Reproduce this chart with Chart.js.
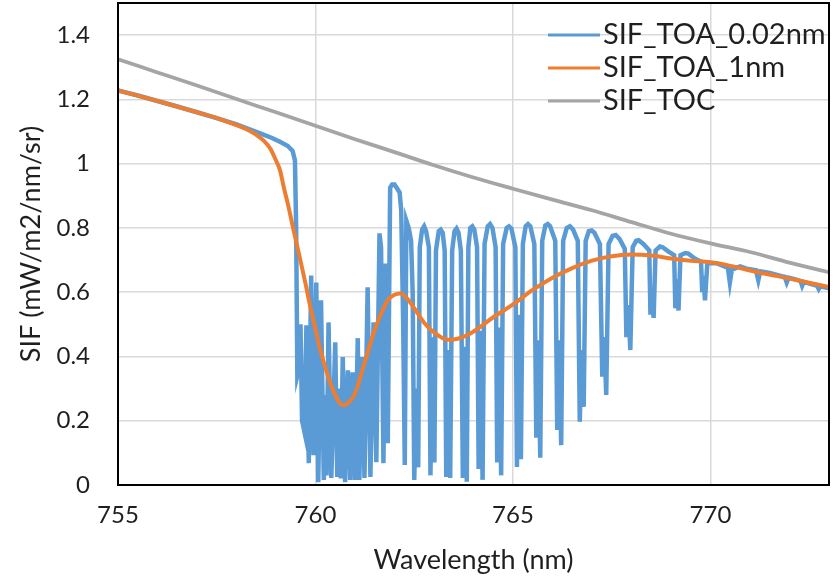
<!DOCTYPE html>
<html>
<head>
<meta charset="utf-8">
<script src="https://cdn.jsdelivr.net/npm/chart.js@4.4.0/dist/chart.umd.min.js"></script>
<style>
  html, body { margin: 0; padding: 0; background: #ffffff; }
  #wrap { width: 837px; height: 579px; }
</style>
</head>
<body>
<div id="wrap"><canvas id="sifChart" width="837" height="579"></canvas></div>
<script>
// SIF spectra around the O2-A band

const seriesNames = ["SIF_TOA_0.02nm", "SIF_TOA_1nm", "SIF_TOC"];
const seriesColors = ["#5B9BD5", "#ED7D31", "#A5A5A5"];

// top of atmosphere, 0.02 nm resolution
const wlFine = [
  755.00, 755.50, 756.00, 756.50, 757.00, 757.50, 758.00, 758.30, 758.60, 758.90,
  759.10, 759.30, 759.42, 759.48, 759.51, 759.54, 759.58, 759.62, 759.66, 759.72,
  759.77, 759.83, 759.89, 759.95, 760.02, 760.07, 760.14, 760.21, 760.25, 760.28,
  760.33, 760.40, 760.50, 760.55, 760.60, 760.64, 760.69, 760.75, 760.82, 760.88,
  760.94, 761.00, 761.07, 761.11, 761.17, 761.24, 761.32, 761.39, 761.47, 761.54,
  761.62, 761.66, 761.72, 761.78, 761.83, 761.89, 761.94, 762.00, 762.07, 762.13,
  762.17, 762.22, 762.26, 762.30, 762.36, 762.42, 762.46, 762.50, 762.55, 762.60,
  762.64, 762.70, 762.75, 762.80, 762.87, 762.91, 762.96, 763.01, 763.05, 763.12,
  763.17, 763.22, 763.27, 763.31, 763.36, 763.41, 763.46, 763.52, 763.57, 763.62,
  763.68, 763.73, 763.78, 763.83, 763.87, 763.92, 763.97, 764.02, 764.09, 764.13,
  764.18, 764.23, 764.28, 764.36, 764.42, 764.48, 764.56, 764.60, 764.65, 764.70,
  764.75, 764.84, 764.90, 764.96, 765.06, 765.10, 765.15, 765.20, 765.25, 765.32,
  765.38, 765.44, 765.54, 765.59, 765.64, 765.69, 765.74, 765.82, 765.88, 765.94,
  766.07, 766.12, 766.17, 766.22, 766.27, 766.36, 766.44, 766.52, 766.64, 766.69,
  766.74, 766.79, 766.84, 766.92, 766.99, 767.06, 767.20, 767.26, 767.31, 767.36,
  767.42, 767.52, 767.60, 767.70, 767.83, 767.87, 767.92, 767.97, 768.03, 768.12,
  768.18, 768.30, 768.45, 768.48, 768.52, 768.56, 768.61, 768.72, 768.79, 768.92,
  769.08, 769.11, 769.15, 769.19, 769.24, 769.36, 769.44, 769.60, 769.76, 769.79,
  769.82, 769.86, 769.92, 770.15, 770.35, 770.44, 770.49, 770.54, 770.75, 770.95,
  771.15, 771.21, 771.26, 771.50, 771.80, 771.88, 771.93, 771.98, 772.15, 772.28,
  772.32, 772.36, 772.55, 772.70, 772.74, 772.78, 773.00
];
const sifFine = [
  1.228, 1.212, 1.195, 1.178, 1.160, 1.142, 1.122, 1.108, 1.094, 1.080,
  1.068, 1.055, 1.040, 1.010, 0.800, 0.340, 0.360, 0.500, 0.200, 0.165,
  0.497, 0.068, 0.652, 0.093, 0.630, 0.009, 0.575, 0.016, 0.280, 0.030,
  0.506, 0.022, 0.444, 0.025, 0.300, 0.020, 0.398, 0.009, 0.357, 0.016,
  0.351, 0.016, 0.457, 0.016, 0.398, 0.022, 0.615, 0.025, 0.506, 0.071,
  0.783, 0.739, 0.068, 0.689, 0.130, 0.925, 0.935, 0.935, 0.922, 0.910,
  0.855, 0.500, 0.062, 0.823, 0.800, 0.760, 0.600, 0.016, 0.300, 0.055,
  0.740, 0.795, 0.805, 0.790, 0.740, 0.030, 0.460, 0.070, 0.730, 0.790,
  0.795, 0.785, 0.730, 0.025, 0.420, 0.022, 0.730, 0.790, 0.798, 0.785,
  0.730, 0.022, 0.430, 0.010, 0.740, 0.800, 0.805, 0.795, 0.740, 0.050,
  0.480, 0.016, 0.750, 0.805, 0.812, 0.800, 0.740, 0.070, 0.490, 0.030,
  0.750, 0.800, 0.805, 0.798, 0.740, 0.056, 0.530, 0.080, 0.750, 0.805,
  0.812, 0.805, 0.750, 0.147, 0.450, 0.085, 0.760, 0.808, 0.812, 0.805,
  0.760, 0.171, 0.450, 0.124, 0.760, 0.800, 0.805, 0.795, 0.760, 0.197,
  0.420, 0.243, 0.760, 0.790, 0.792, 0.785, 0.750, 0.337, 0.460, 0.280,
  0.750, 0.775, 0.778, 0.765, 0.735, 0.460, 0.560, 0.420, 0.740, 0.760,
  0.762, 0.750, 0.730, 0.530, 0.600, 0.520, 0.730, 0.742, 0.740, 0.728,
  0.715, 0.550, 0.640, 0.543, 0.715, 0.722, 0.720, 0.705, 0.695, 0.600,
  0.650, 0.575, 0.690, 0.690, 0.680, 0.676, 0.630, 0.670, 0.680, 0.672,
  0.668, 0.637, 0.665, 0.660, 0.650, 0.648, 0.630, 0.645, 0.640, 0.635,
  0.620, 0.632, 0.625, 0.620, 0.610, 0.618, 0.612
];

// top of atmosphere, convolved to 1 nm
const wlCoarse = [
  755.00, 756.00, 757.00, 757.50, 758.00, 758.25, 758.50, 758.70, 758.85, 759.00,
  759.10, 759.20, 759.30, 759.45, 759.60, 759.75, 759.85, 760.00, 760.10, 760.25,
  760.35, 760.50, 760.69, 760.85, 761.00, 761.24, 761.49, 761.65, 761.83, 762.00,
  762.15, 762.30, 762.50, 762.75, 763.00, 763.35, 763.60, 763.90, 764.15, 764.50,
  765.00, 765.50, 766.00, 766.50, 767.00, 767.50, 768.00, 768.50, 769.00, 769.50,
  770.00, 770.50, 771.20, 771.70, 772.20, 773.00
];
const sifCoarse = [
  1.228, 1.195, 1.160, 1.142, 1.120, 1.107, 1.090, 1.070, 1.048, 1.010,
  0.980, 0.925, 0.875, 0.790, 0.709, 0.625, 0.565, 0.485, 0.430, 0.365,
  0.326, 0.280, 0.248, 0.258, 0.285, 0.379, 0.480, 0.530, 0.575, 0.592,
  0.596, 0.583, 0.550, 0.505, 0.475, 0.452, 0.455, 0.470, 0.490, 0.522,
  0.562, 0.607, 0.645, 0.675, 0.698, 0.712, 0.717, 0.714, 0.705, 0.698,
  0.693, 0.682, 0.662, 0.650, 0.637, 0.616
];

// top of canopy
const wlToc = [
  755, 756, 757, 758, 759, 760, 761, 762, 763, 764,
  765, 766, 767, 768, 769, 770, 771, 772, 773
];
const sifToc = [
  1.325, 1.284, 1.243, 1.201, 1.160, 1.118, 1.076, 1.036, 0.995, 0.957,
  0.922, 0.888, 0.855, 0.818, 0.782, 0.752, 0.725, 0.692, 0.662
];

const xTicks = [755, 760, 765, 770];
const yTicks = [0, 0.2, 0.4, 0.6, 0.8, 1, 1.2, 1.4];

const FONT = "Lato";
const TEXT = "#1f1f1f";

function toPoints(xs, ys) {
  return xs.map((x, i) => ({ x: x, y: ys[i] }));
}

// black box round the plot area
const frame = {
  id: "frame",
  afterDatasetsDraw(chart) {
    const a = chart.chartArea;
    const ctx = chart.ctx;
    ctx.save();
    ctx.strokeStyle = "#000000";
    ctx.lineWidth = 2;
    ctx.strokeRect(a.left, a.top, a.right - a.left, a.bottom - a.top);
    ctx.restore();
  }
};

// legend sits inside the plot, top right
const innerLegend = {
  id: "innerLegend",
  afterDraw(chart) {
    const ctx = chart.ctx;
    ctx.save();
    ctx.font = "29px " + FONT;
    ctx.textBaseline = "middle";
    ctx.textAlign = "left";
    seriesNames.forEach((name, i) => {
      const y = 35 + i * 33;
      ctx.strokeStyle = seriesColors[i];
      ctx.lineWidth = 3;
      ctx.beginPath();
      ctx.moveTo(548, y);
      ctx.lineTo(600, y);
      ctx.stroke();
      ctx.fillStyle = TEXT;
      ctx.fillText(name, 603, y);
    });
    ctx.restore();
  }
};

const ctx = document.getElementById("sifChart").getContext("2d");
new Chart(ctx, {
  type: "line",
  data: {
    datasets: [
      {
        label: seriesNames[0],
        data: toPoints(wlFine, sifFine),
        borderColor: seriesColors[0],
        borderWidth: 4.5,
        pointRadius: 0,
        tension: 0,
        order: 1
      },
      {
        label: seriesNames[1],
        data: toPoints(wlCoarse, sifCoarse),
        borderColor: seriesColors[1],
        borderWidth: 4,
        pointRadius: 0,
        cubicInterpolationMode: "monotone",
        order: 0
      },
      {
        label: seriesNames[2],
        data: toPoints(wlToc, sifToc),
        borderColor: seriesColors[2],
        borderWidth: 3.75,
        pointRadius: 0,
        cubicInterpolationMode: "monotone",
        order: 2
      }
    ]
  },
  options: {
    responsive: false,
    animation: false,
    layout: { autoPadding: false, padding: { top: 3, right: 8, left: 0, bottom: 0 } },
    scales: {
      x: {
        type: "linear",
        min: 755,
        max: 773,
        afterBuildTicks: (scale) => { scale.ticks = xTicks.map(v => ({ value: v })); },
        afterFit: (scale) => {
          scale.height = 94;
          scale.paddingLeft = 0;
          scale.paddingRight = 0;
        },
        grid: { color: "#D9D9D9", lineWidth: 1.5, drawTicks: false },
        border: { display: false },
        ticks: {
          padding: 16,
          color: TEXT,
          font: { family: FONT, size: 24 },
          callback: (v) => String(v)
        },
        title: {
          display: true,
          text: "Wavelength (nm)",
          color: TEXT,
          font: { family: FONT, size: 27 },
          padding: { top: 0, bottom: 3 }
        }
      },
      y: {
        min: 0,
        max: 1.5,
        afterBuildTicks: (scale) => { scale.ticks = yTicks.map(v => ({ value: v })); },
        afterFit: (scale) => {
          scale.width = 118;
          scale.paddingTop = 0;
          scale.paddingBottom = 0;
        },
        grid: { color: "#D9D9D9", lineWidth: 1.5, drawTicks: false },
        border: { display: false },
        ticks: {
          padding: 28,
          color: TEXT,
          font: { family: FONT, size: 24 },
          callback: (v) => String(v)
        },
        title: {
          display: true,
          text: "SIF (mW/m2/nm/sr)",
          color: TEXT,
          font: { family: FONT, size: 27 },
          padding: { top: 15, bottom: 0 }
        }
      }
    },
    plugins: {
      legend: { display: false },
      tooltip: { enabled: false }
    }
  },
  plugins: [frame, innerLegend]
});
</script>
</body>
</html>
